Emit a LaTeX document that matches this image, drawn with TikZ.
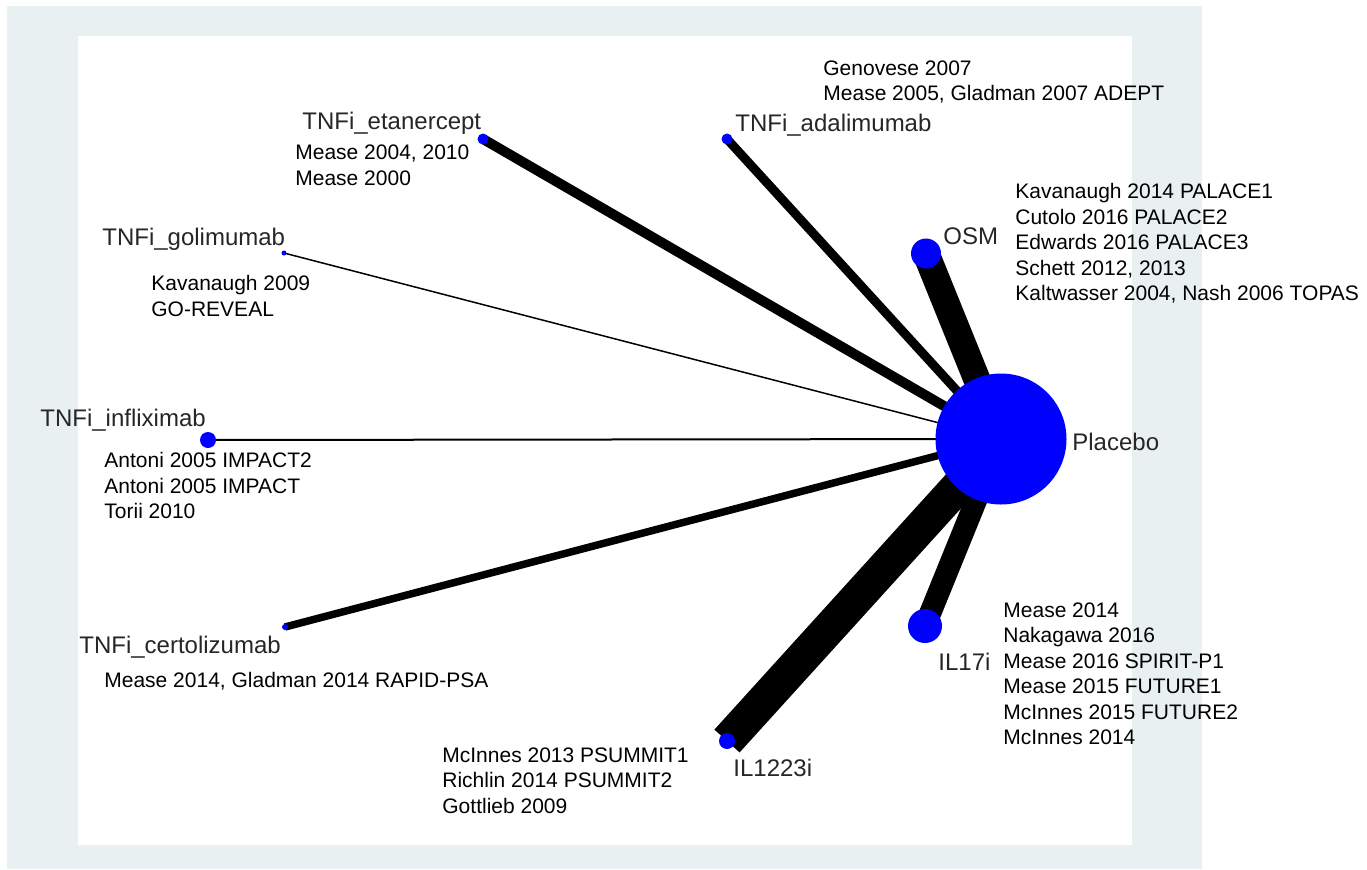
\documentclass[tikz,border=0pt]{standalone}
\usepackage{fontspec}
\setmainfont{Liberation Sans}
\usepackage{tikz}
\usepackage{xcolor}

\definecolor{panelgrey}{HTML}{E9F0F2}

\begin{document}
\begin{tikzpicture}[x=0.5pt, y=-0.5pt,
  trt/.style={circle, fill=blue, inner sep=0pt},
  link/.style={line cap=butt, black},
  drug/.style={anchor=base west, inner sep=0pt, text=black!85, font=\fontsize{12}{14}\selectfont},
  refs/.style={anchor=north west, inner sep=0pt, align=left, font=\fontsize{10.5}{12.75}\selectfont}]

\useasboundingbox (0,0) rectangle (1367,869);

% ===== Panel =====

\fill[panelgrey] (7,6) rectangle (1202,869);
\fill[white] (78,36) rectangle (1132,845);

% ===== Treatments =====

\coordinate (placebo) at (1001,439);
\coordinate (osm) at (926,253.5);
\coordinate (il17i) at (925,626);
\coordinate (il1223i) at (727,741);
\coordinate (etan) at (483,139);
\coordinate (ada) at (727,139);
\coordinate (goli) at (284,253);
\coordinate (infl) at (208,440);
\coordinate (cert) at (285,627);

% ===== Comparisons =====

\draw[link, line width=13.5pt] (placebo) -- (osm);
\draw[link, line width=11pt] (placebo) -- (il17i);
\draw[link, line width=17pt] (placebo) -- (il1223i);
\draw[link, line width=5pt] (placebo) -- (etan);
\draw[link, line width=4.5pt] (placebo) -- (ada);
\draw[link, line width=0.75pt] (placebo) -- (goli);
\draw[link, line width=1pt] (placebo) -- (infl);
\draw[link, line width=3.75pt] (placebo) -- (cert);

% ===== Dots =====

\node[trt, minimum size=65.5pt] (placebo dot) at (placebo) {};
\node[trt, minimum size=15pt] (osm dot) at (osm) {};
\node[trt, minimum size=17pt] (il17i dot) at (il17i) {};
\node[trt, minimum size=8pt] (il1223i dot) at (il1223i) {};
\node[trt, minimum size=5.5pt] (etan dot) at (etan) {};
\node[trt, minimum size=5.5pt] (ada dot) at (ada) {};
\node[trt, minimum size=2.5pt] (goli dot) at (goli) {};
\node[trt, minimum size=8pt] (infl dot) at (infl) {};
\node[trt, minimum size=3pt] (cert dot) at (cert) {};

% ===== Names =====

\node[drug] (placebo name) at (1072,450) {Placebo};
\node[drug] (osm name) at (943,244) {OSM};
\node[drug] (il17i name) at (938,670) {IL17i};
\node[drug] (il1223i name) at (733,776) {IL1223i};
\node[drug] (etan name) at (302,129) {TNFi\_etanercept};
\node[drug] (ada name) at (735,131.5) {TNFi\_adalimumab};
\node[drug] (goli name) at (102,245) {TNFi\_golimumab};
\node[drug] (infl name) at (40,426.5) {TNFi\_infliximab};
\node[drug] (cert name) at (79,653) {TNFi\_certolizumab};

% ===== Trials =====

\node[refs] (ada trials) at (823,60) {Genovese 2007\\Mease 2005, Gladman 2007 ADEPT};
\node[refs] (etan trials) at (295,144.5) {Mease 2004, 2010\\Mease 2000};
\node[refs] (goli trials) at (151,275) {Kavanaugh 2009\\GO-REVEAL};
\node[refs] (osm trials) at (1015,183) {Kavanaugh 2014 PALACE1\\Cutolo 2016 PALACE2\\Edwards 2016 PALACE3\\Schett 2012, 2013\\Kaltwasser 2004, Nash 2006 TOPAS};
\node[refs] (infl trials) at (104,452) {Antoni 2005 IMPACT2\\Antoni 2005 IMPACT\\Torii 2010};
\node[refs] (cert trials) at (104,672) {Mease 2014, Gladman 2014 RAPID-PSA};
\node[refs] (il17i trials) at (1003,602) {Mease 2014\\Nakagawa 2016\\Mease 2016 SPIRIT-P1\\Mease 2015 FUTURE1\\McInnes 2015 FUTURE2\\McInnes 2014};
\node[refs] (il1223i trials) at (442,747) {McInnes 2013 PSUMMIT1\\Richlin 2014 PSUMMIT2\\Gottlieb 2009};

\end{tikzpicture}
\end{document}
